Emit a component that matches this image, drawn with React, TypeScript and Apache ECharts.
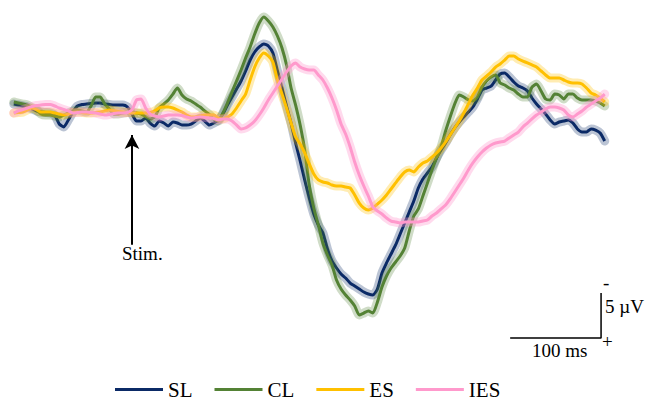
import React, { useEffect, useRef } from "react";
import * as echarts from "echarts";

// time axis (ms, relative to stimulus)
const times = [
  -130, -125, -120, -115, -110, -105, -100, -95, -90, -85, -80, -75, -70, -65, -60, -55, -50, -45, -40, -35,
  -30, -25, -20, -15, -10, -5, 0, 5, 10, 15, 20, 25, 30, 35, 40, 45, 50, 55, 60, 65,
  70, 75, 80, 85, 90, 95, 100, 105, 110, 115, 120, 125, 130, 135, 140, 145, 150, 155, 160, 165,
  170, 175, 180, 185, 190, 195, 200, 205, 210, 215, 220, 225, 230, 235, 240, 245, 250, 255, 260, 265,
  270, 275, 280, 285, 290, 295, 300, 305, 310, 315, 320, 325, 330, 335, 340, 345, 350, 355, 360, 365,
  370, 375, 380, 385, 390, 395, 400, 405, 410, 415, 420, 425, 430, 435, 440, 445, 450, 455, 460, 465,
  470, 475, 480, 485, 490, 495, 500, 505, 510, 515, 520,
];

// amplitudes in µV (negative plotted upward)
const SL = [
  -0.33, -0.22, -0.11, 0, 0.22, 0.44, 0.56, 0.61, 0.67, 0.89,
  1.89, 2.22, 1.44, 0.56, -0.11, -0.28, -0.33, -0.39, -0.44, -0.44,
  -0.33, -0.28, -0.22, -0.22, -0.22, 0, 0.78, 1.56, 1.56, 1.22,
  1.78, 2.11, 1.56, 1.78, 2.11, 1.67, 1.78, 2.0, 2.0, 1.89,
  1.56, 1.22, 1.56, 2.0, 1.78, 1.44, 0.78, -0.22, -1.11, -2.0,
  -2.89, -4.0, -5.22, -6.11, -6.67, -7.0, -6.78, -6.0, -4.0, -2.11,
  -0.11, 1.78, 4.0, 6.0, 8.11, 10.11, 11.89, 13.11, 14.0, 15.78,
  17.11, 17.89, 18.56, 19.0, 19.56, 19.89, 20.22, 20.56, 20.78, 20.89,
  20.22, 18.44, 17.33, 16.33, 15.33, 14.11, 12.89, 11.67, 10.44, 9.0,
  8.0, 7.33, 6.67, 5.67, 4.78, 4.0, 3.11, 2.33, 1.67, 1.11,
  0.56, 0, -0.89, -1.89, -2.11, -2.33, -3.0, -3.67, -3.78, -3.33,
  -2.78, -2.33, -2.11, -1.78, -1.0, -0.33, 0.22, 0.78, 1.44, 1.89,
  1.67, 1.56, 1.44, 1.78, 2.44, 2.78, 2.78, 2.44, 2.56, 2.89, 3.78,
];

const CL = [
  -0.56, -0.44, -0.33, -0.22, 0.06, 0.33, 0.78, 0.89, 0.89, 1.0,
  1.11, 0.89, 0.67, 0.44, 0.33, 0.44, 0.56, -0.11, -1.11, -1.11,
  -0.33, 0.22, 0.78, 0.78, 0.67, 0.61, 0.56, 0.67, 0.78, 1.06,
  1.33, 1.11, 0.11, -0.33, -0.78, -1.44, -2.11, -1.33, -0.89, -0.67,
  -0.33, 0, 0.44, 0.83, 1.33, 1.56, 0.67, -0.44, -1.67, -2.89,
  -4.11, -5.44, -6.67, -8.11, -9.33, -10.0, -9.56, -8.89, -7.89, -6.56,
  -4.67, -2.11, -0.22, 2.0, 4.78, 8.67, 11.22, 13.11, 15.11, 16.44,
  17.56, 19.22, 20.22, 20.89, 21.44, 22.11, 23.11, 22.89, 22.67, 22.89,
  21.67, 20.0, 18.78, 17.89, 17.22, 16.56, 15.67, 13.78, 12.11, 11.33,
  9.89, 8.44, 7.0, 5.67, 4.44, 2.67, 1.11, -0.33, -1.33, -1.11,
  -0.78, -0.67, -1.11, -2.22, -2.89, -3.33, -3.56, -2.67, -2.44, -2.11,
  -1.89, -1.44, -1.11, -1.11, -2.22, -2.56, -1.78, -0.89, -0.78, -1.44,
  -1.33, -0.89, -1.44, -1.44, -1.0, -0.78, -0.78, -0.78, -0.67, -0.44, -0.11,
];

const ES = [
  0.67, 0.61, 0.56, 0.33, 0.11, 0.28, 0.56, 0.56, 0.56, 0.67,
  0.78, 0.89, 0.78, 0.61, 0.56, 0.61, 0.67, 0.67, 0.61, 0.56,
  0.44, 0.33, 0.39, 0.5, 0.56, 0.61, 0.67, 0.67, 0.67, 0.67,
  0.61, 0.44, 0.11, 0, 0, 0.11, 0.33, 0.56, 0.89, 1.11,
  1.11, 1.0, 0.89, 0.89, 0.89, 1.22, 1.33, 1.11, 0.78, 0.11,
  -0.67, -1.44, -3.0, -4.44, -5.44, -6.0, -5.67, -5.0, -3.0, -1.44,
  0.11, 1.78, 3.33, 4.11, 5.11, 6.33, 7.44, 8.11, 8.33, 8.44,
  8.67, 8.78, 8.78, 8.89, 9.0, 9.78, 10.67, 11.22, 11.44, 11.22,
  10.78, 10.33, 9.78, 9.11, 8.44, 7.78, 7.22, 7.0, 7.22, 6.67,
  6.22, 6.0, 5.56, 5.11, 4.56, 3.89, 3.11, 2.33, 1.56, 0.67,
  -0.33, -1.33, -2.11, -3.0, -3.44, -3.89, -4.44, -4.78, -5.22, -5.67,
  -5.67, -5.33, -5.11, -4.89, -4.67, -4.44, -4.0, -3.56, -3.22, -3.22,
  -3.22, -3.0, -2.78, -2.67, -2.67, -2.56, -2.11, -1.56, -1.33, -1.0, -0.56,
];

const IES = [
  0.67, 0.44, 0.28, 0.11, -0.06, -0.17, -0.22, -0.28, -0.28, -0.11,
  0.11, 0.28, 0.44, 0.67, 0.61, 0.56, 0.56, 0.61, 0.67, 0.78,
  0.89, 0.83, 0.72, 0.67, 0.67, 0.61, 0.33, -0.78, -0.89, 0.11,
  0.78, 1.0, 1.11, 1.0, 0.89, 0.89, 0.89, 0.94, 1.11, 1.22,
  1.17, 1.11, 1.17, 1.22, 1.28, 1.44, 1.33, 1.33, 1.56, 2.0,
  2.44, 2.33, 2.0, 1.56, 0.89, 0.11, -0.78, -1.56, -2.33, -3.11,
  -3.89, -4.56, -4.89, -4.44, -4.22, -4.11, -4.11, -3.56, -3.0, -2.11,
  -1.0, 0.33, 1.89, 3.0, 4.44, 6.11, 7.56, 8.78, 9.89, 11.11,
  11.56, 11.89, 12.33, 12.67, 12.78, 12.89, 12.78, 12.78, 12.78, 12.78,
  12.67, 12.56, 12.11, 11.78, 11.33, 10.89, 10.22, 9.44, 8.67, 7.89,
  7.0, 6.22, 5.56, 5.0, 4.56, 4.22, 4.0, 3.89, 3.78, 3.44,
  3.11, 2.78, 2.22, 1.78, 1.33, 0.89, 0.56, 0.22, 0, 0,
  0.11, 0.33, 0.89, 1.11, 0.78, 0.44, 0, -0.33, -0.67, -1.0, -1.44,
];

const seriesNames = ["SL", "CL", "ES", "IES"];
const seriesValues = [SL, CL, ES, IES];
const seriesColors = ["#0b2a66", "#548235", "#ffc000", "#ff99cc"];
const bandColors = [
  "rgba(11,42,102,0.28)",
  "rgba(84,130,53,0.28)",
  "rgba(255,192,0,0.3)",
  "rgba(255,153,204,0.36)",
];

// scale bar: 100 ms horizontal, 5 µV vertical
const scaleBarMs = [416, 516];
const scaleBarUv = [20.67, 25.67];
// stimulus arrow (t = 0)
const stimArrowUv = [15.3, 3.1];

const SERIF = "Times New Roman, Liberation Serif, DejaVu Serif, serif";

export default function App() {
  const ref = useRef<HTMLDivElement>(null);

  useEffect(() => {
    if (!ref.current) return;
    const chart = echarts.init(ref.current, undefined, { renderer: "svg" });

    const series: any[] = [];
    seriesNames.forEach((name, i) => {
      const data = times.map((t, j) => [t, seriesValues[i][j]]);
      series.push({
        name: name + " band",
        type: "line",
        data,
        showSymbol: false,
        silent: true,
        clip: false,
        smooth: 0.2,
        lineStyle: { width: 9, color: bandColors[i], cap: "round", join: "round" },
        itemStyle: { color: bandColors[i] },
      });
      series.push({
        name,
        type: "line",
        data,
        showSymbol: false,
        clip: false,
        smooth: 0.2,
        lineStyle: { width: 3, color: seriesColors[i], join: "round" },
        itemStyle: { color: seriesColors[i] },
      });
    });

    // scale bar
    series.push({
      name: "scale",
      type: "line",
      data: [
        [scaleBarMs[0], scaleBarUv[1]],
        [scaleBarMs[1], scaleBarUv[1]],
        [scaleBarMs[1], scaleBarUv[0]],
      ],
      showSymbol: false,
      silent: true,
      clip: false,
      lineStyle: { width: 1.5, color: "#000" },
      itemStyle: { color: "#000" },
    });

    // stimulus arrow
    series.push({
      name: "stim",
      type: "line",
      data: [],
      silent: true,
      markLine: {
        silent: true,
        symbol: ["none", "arrow"],
        symbolSize: [11, 14],
        label: { show: false },
        lineStyle: { color: "#000", width: 2, type: "solid" },
        data: [[{ coord: [0, stimArrowUv[0]] }, { coord: [0, stimArrowUv[1]] }]],
      },
    });

    const txt = (text: string, left: number, top: number, size = 19) => ({
      type: "text",
      left,
      top,
      style: { text, font: size + "px " + SERIF, fill: "#000" },
    });

    chart.setOption({
      animation: false,
      backgroundColor: "#fff",
      grid: { left: 13.8, right: 42.3, top: 8, bottom: 52, containLabel: false },
      xAxis: { type: "value", min: -130, max: 520, show: false },
      yAxis: { type: "value", min: -11, max: 27, inverse: true, show: false },
      legend: {
        data: seriesNames,
        left: 110,
        top: 374,
        icon: "rect",
        itemWidth: 48,
        itemHeight: 3,
        itemGap: 22,
        textStyle: { fontFamily: SERIF, fontSize: 21, color: "#000" },
      },
      graphic: [
        txt("Stim.", 122, 244),
        txt("5 µV", 605, 297),
        txt("100 ms", 532, 341),
        txt("-", 603, 273),
        txt("+", 602, 332),
      ],
      series,
    });

    return () => chart.dispose();
  }, []);

  return (
    <div
      ref={ref}
      style={{ position: "fixed", left: 0, top: 0, width: 647, height: 402 }}
    />
  );
}
